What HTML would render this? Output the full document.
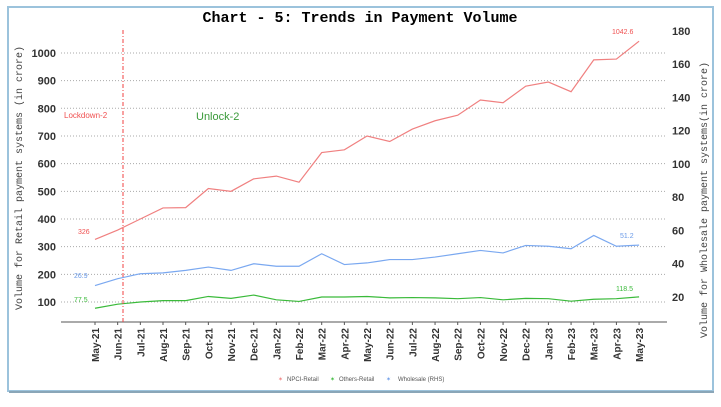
<!DOCTYPE html>
<html><head><meta charset="utf-8"><style>
body{margin:0;background:#fff;width:721px;height:402px;overflow:hidden}
</style></head><body>
<svg id="s" width="721" height="402" xmlns="http://www.w3.org/2000/svg" font-family="Liberation Sans, sans-serif">
<rect x="0" y="0" width="721" height="402" fill="#fff"/>
<rect x="8" y="7" width="705" height="384" fill="none" stroke="#9cc3dc" stroke-width="2"/>
<line x1="9" y1="392" x2="714" y2="392" stroke="#8aa6b8" stroke-width="2"/>
<text x="360" y="22" text-anchor="middle" font-family="Liberation Mono, monospace" font-weight="bold" font-size="15">Chart - 5: Trends in Payment Volume</text>
<g id="g"></g>
<line x1="61" y1="322" x2="667" y2="322" stroke="#555" stroke-width="1"/>
<line x1="123" y1="30" x2="123" y2="322" stroke="#f04040" stroke-dasharray="4,2,1,2" stroke-width="1"/>
<text x="64" y="118" font-size="8" fill="#f05050">Lockdown-2</text>
<text x="196" y="120" font-size="11" fill="#3a9a3a">Unlock-2</text>
<text transform="translate(22,178) rotate(-90)" text-anchor="middle" font-family="Liberation Mono, monospace" font-size="10" fill="#444">Volume for Retail payment systems (in crore)</text>
<text transform="translate(707,200) rotate(-90)" text-anchor="middle" font-family="Liberation Mono, monospace" font-size="10" fill="#444">Volume for Wholesale payment systems(in crore)</text>
<text x="78" y="234" font-size="7" fill="#f05050">326</text>
<text x="74" y="278" font-size="7" fill="#6a9ae8">26.9</text>
<text x="74" y="302" font-size="7" fill="#3aba3a">77.5</text>
<text x="612" y="34" font-size="7" fill="#f05050">1042.6</text>
<text x="620" y="238" font-size="7" fill="#6a9ae8">51.2</text>
<text x="616" y="291" font-size="7" fill="#3aba3a">118.5</text>
<g font-size="6" fill="#555">
<text x="278" y="381" fill="#f08080">✶</text><text x="287" y="381">NPCI-Retail</text>
<text x="330" y="381" fill="#3aba3a">✶</text><text x="339" y="381">Others-Retail</text>
<text x="386" y="381" fill="#6a9ae8">✶</text><text x="398" y="381">Wholesale (RHS)</text>
</g>
</svg>
<script>
var g=document.getElementById('g'),h='';
function yl(v){return 302-(v-100)*0.2767}
function yr(v){return 297-(v-20)*1.663}
for(var v=100;v<=1000;v+=100){h+='<line x1="61" x2="667" y1="'+yl(v)+'" y2="'+yl(v)+'" stroke="#aaa" stroke-dasharray="1,2"/>';
h+='<text x="56" y="'+(yl(v)+4)+'" text-anchor="end" font-size="11" font-weight="bold" fill="#333">'+v+'</text>';}
for(var v=20;v<=180;v+=20){h+='<text x="672" y="'+(yr(v)+4)+'" font-size="11" font-weight="bold" fill="#333">'+v+'</text>';}
var m=['May-21','Jun-21','Jul-21','Aug-21','Sep-21','Oct-21','Nov-21','Dec-21','Jan-22','Feb-22','Mar-22','Apr-22','May-22','Jun-22','Jul-22','Aug-22','Sep-22','Oct-22','Nov-22','Dec-22','Jan-23','Feb-23','Mar-23','Apr-23','May-23'];
function x(i){return 95+i*22.67}
m.forEach(function(t,i){h+='<line x1="'+x(i)+'" x2="'+x(i)+'" y1="322" y2="325" stroke="#555"/><text transform="translate('+(x(i)+4)+',328) rotate(-90)" text-anchor="end" font-size="10" font-weight="bold" fill="#333">'+t+'</text>';});
var n=[326,360,400,440,441,510,500,545,555,533,640,650,700,680,725,755,775,830,820,880,895,860,975,978,1042.6];
var o=[77.5,92,100,105,105,120,113,125,108,102,118,118,120,115,116,115,112,116,108,113,112,103,110,112,118.5];
var w=[26.9,31,34,34.5,36,38,36,40,38.5,38.5,46,39.5,40.5,42.5,42.5,44,46,48,46.5,51,50.5,49,57,50.5,51.2];
function pl(a,f,c){return '<polyline fill="none" stroke="'+c+'" stroke-width="1.2" points="'+a.map(function(v,i){return x(i)+','+f(v)}).join(' ')+'"/>'}
h+=pl(n,yl,'#f08080')+pl(o,yl,'#3aba3a')+pl(w,yr,'#7aa8f0');
g.innerHTML=h;
</script>
</body></html>
